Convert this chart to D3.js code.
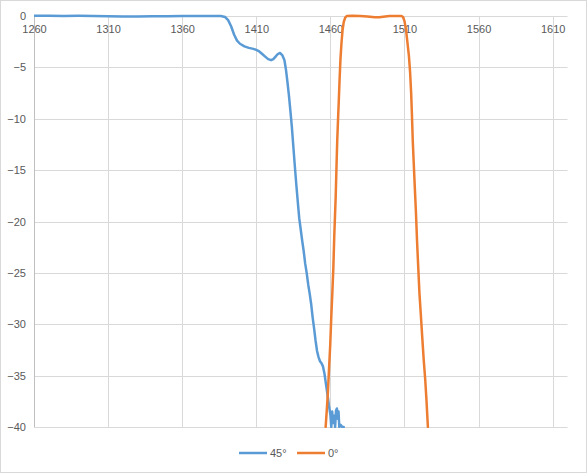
<!DOCTYPE html>
<html>
<head>
<meta charset="utf-8">
<script src="https://cdn.jsdelivr.net/npm/d3@7/dist/d3.min.js"></script>
<style>
  body { margin: 0; background: #fff; }
  svg { display: block; }
  text { font-family: "Liberation Sans", Arial, sans-serif; font-size: 11px; fill: #595959; }
</style>
</head>
<body>
<svg id="chart" width="587" height="473"></svg>
<script>
// ---- data ----
const xTicks = [1260, 1310, 1360, 1410, 1460, 1510, 1560, 1610];
const yTicks = [0, -5, -10, -15, -20, -25, -30, -35, -40];

const blueWavelength = [1260, 1270, 1280, 1290, 1300, 1310, 1320, 1330, 1340, 1350, 1360, 1370, 1380, 1386,
  1389, 1391, 1393, 1395, 1397, 1399, 1402, 1405, 1408, 1410, 1412, 1414, 1416, 1418, 1420, 1421.5, 1423,
  1424.5, 1426, 1427.5, 1429, 1430, 1431, 1432, 1433, 1434, 1435, 1436, 1437, 1438, 1439, 1440, 1441, 1442,
  1443, 1444, 1445, 1446, 1447, 1448, 1449, 1450, 1451, 1452, 1453, 1454, 1455, 1456, 1457, 1458, 1459,
  1460, 1460.6, 1461.2, 1461.8, 1462.5, 1463.2, 1463.8, 1464.4, 1465, 1465.5, 1466, 1467, 1468, 1469];
const blueValues = [0.02, 0.02, 0.01, 0.02, 0.01, -0.02, -0.05, -0.05, -0.03, -0.02, 0, 0, 0, 0,
  -0.1, -0.4, -1.0, -1.8, -2.4, -2.7, -2.95, -3.1, -3.2, -3.3, -3.45, -3.7, -3.95, -4.2, -4.3, -4.2, -3.95,
  -3.7, -3.6, -3.8, -4.3, -5.2, -6.4, -7.7, -9.2, -10.8, -12.7, -14.6, -16.4, -18.1, -19.7, -20.8, -21.9, -22.9,
  -24.1, -25.0, -26.1, -27.0, -28.0, -29.3, -30.4, -31.6, -32.6, -33.2, -33.6, -33.8, -34.1, -34.8, -35.8, -36.8, -37.9,
  -38.8, -40, -38.5, -39.6, -38.9, -40, -38.4, -38.2, -39.2, -38.5, -40, -39.8, -40, -40];

const orangeWavelength = [1456.8, 1457.5, 1458.3, 1459.2, 1459.9, 1460.6, 1461.3, 1462, 1462.6, 1463.1, 1463.6,
  1464.1, 1464.6, 1465.1, 1465.6, 1466.2, 1466.8, 1467.5, 1468.2, 1469, 1470, 1471, 1475, 1480, 1485, 1490,
  1493, 1497, 1500, 1505, 1508, 1509, 1510, 1511, 1512, 1513, 1513.8, 1514.5, 1515, 1515.6, 1516.3, 1517,
  1517.7, 1518.5, 1519.3, 1520.1, 1521, 1522, 1523, 1524, 1524.8, 1525.5, 1525.8];
const orangeValues = [-40, -38.5, -36.7, -34.0, -32.0, -29.3, -27.0, -24.5, -21.5, -19.5, -17.5,
  -14.8, -12.2, -10.3, -8.5, -6.2, -4.2, -2.6, -1.4, -0.6, -0.15, 0, 0.02, 0, -0.05, -0.12,
  -0.12, -0.05, 0, 0, 0, -0.1, -0.5, -1.3, -2.6, -3.9, -5.5, -7.5, -9.5, -12.2, -14.5, -16.8,
  -19, -22, -24.5, -27, -29, -31.3, -33.5, -35.4, -37.3, -39.2, -40];

const seriesNames = ["45°", "0°"];
const seriesColors = ["#5B9BD5", "#ED7D31"];

// ---- chart ----
const svg = d3.select("#chart");
const W = 587, H = 473;
const mLeft = 34, mRight = 567.5, mTop = 16, mBottom = 427;

svg.append("rect").attr("x", 0.5).attr("y", 0.5).attr("width", W - 1).attr("height", H - 1)
  .attr("fill", "#fff").attr("stroke", "#D9D9D9");

const x = d3.scaleLinear().domain([1260, 1620]).range([mLeft, mRight]);
const y = d3.scaleLinear().domain([-40, 0]).range([mBottom, mTop]);

// horizontal gridlines
svg.append("g").selectAll("line").data(yTicks).join("line")
  .attr("x1", mLeft).attr("x2", mRight)
  .attr("y1", d => Math.round(y(d)) + 0.5).attr("y2", d => Math.round(y(d)) + 0.5)
  .attr("stroke", "#D9D9D9").attr("stroke-width", 1);

// vertical gridlines
svg.append("g").selectAll("line").data(xTicks.slice(1)).join("line")
  .attr("x1", d => Math.round(x(d)) + 0.5).attr("x2", d => Math.round(x(d)) + 0.5)
  .attr("y1", mTop).attr("y2", mBottom)
  .attr("stroke", "#D9D9D9").attr("stroke-width", 1);

// vertical axis line
svg.append("line").attr("x1", mLeft + 0.5).attr("x2", mLeft + 0.5).attr("y1", mTop).attr("y2", mBottom)
  .attr("stroke", "#BFBFBF");

// y axis labels
const yAxis = d3.axisLeft(y).tickValues(yTicks).tickSize(0).tickPadding(8).tickFormat(d3.format("d"));
const gy = svg.append("g").attr("transform", `translate(${mLeft},0)`).call(yAxis);
gy.select(".domain").remove();
gy.selectAll("text").style("font-family", "Liberation Sans, Arial, sans-serif").style("font-size", "11px").attr("fill", "#595959");

// x axis labels (below the 0 line)
const xAxis = d3.axisBottom(x).tickValues(xTicks).tickSize(0).tickPadding(9).tickFormat(d3.format("d"));
const gx = svg.append("g").attr("transform", `translate(0,${y(0)})`).call(xAxis);
gx.select(".domain").remove();
gx.selectAll("text").style("font-family", "Liberation Sans, Arial, sans-serif").style("font-size", "11px").attr("fill", "#595959");

// clip
svg.append("clipPath").attr("id", "clip").append("rect")
  .attr("x", mLeft).attr("y", mTop - 3).attr("width", mRight - mLeft).attr("height", mBottom - mTop + 4);

const line = d3.line().x(d => x(d[0])).y(d => y(Math.max(-40, d[1])));
const blueData = blueWavelength.map((w, i) => [w, blueValues[i]]);
const orangeData = orangeWavelength.map((w, i) => [w, orangeValues[i]]);

const plot = svg.append("g").attr("clip-path", "url(#clip)");
plot.append("path").datum(blueData).attr("d", line)
  .attr("fill", "none").attr("stroke", seriesColors[0]).attr("stroke-width", 2.5)
  .attr("stroke-linejoin", "round").attr("stroke-linecap", "round");
plot.append("path").datum(orangeData).attr("d", line)
  .attr("fill", "none").attr("stroke", seriesColors[1]).attr("stroke-width", 2.5)
  .attr("stroke-linejoin", "round").attr("stroke-linecap", "round");

// legend
const legend = svg.append("g");
const legX = [239, 297];
seriesNames.forEach((name, i) => {
  legend.append("line").attr("x1", legX[i]).attr("x2", legX[i] + 28).attr("y1", 453).attr("y2", 453)
    .attr("stroke", seriesColors[i]).attr("stroke-width", 2.5);
  legend.append("text").attr("x", legX[i] + 31).attr("y", 453).attr("dy", "0.35em").text(name);
});
</script>
</body>
</html>
